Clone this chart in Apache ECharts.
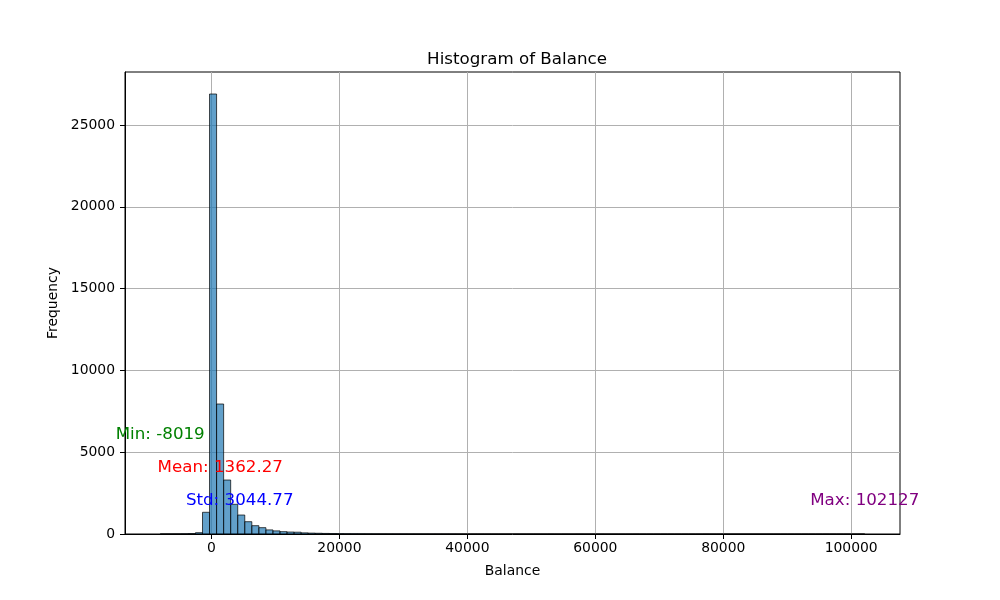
<!DOCTYPE html>
<html>
<head>
<meta charset="utf-8">
<script src="https://cdn.jsdelivr.net/npm/echarts@6/dist/echarts.min.js"></script>
<style>html,body{margin:0;padding:0;background:#fff}#c{width:1000px;height:600px}</style>
</head>
<body>
<div id="c"></div>
<script>
// ---- data ----
var balanceMin = -8019;
var balanceMax = 102127;
var balanceMean = 1362.27;
var balanceStd = 3044.77;
var binCount = 100;
var counts = [
  3, 4, 6, 12, 25, 80, 1327, 26897, 7946, 3300,
  1815, 1160, 752, 509, 387, 250, 190, 143, 120, 110,
  70, 55, 45, 35, 25, 20, 15, 12, 10, 8,
  7, 6, 5, 4, 4, 3, 3, 3, 2, 2,
  2, 2, 1, 1, 1, 1, 1, 1, 1, 1,
  1, 1, 1, 1, 0, 1, 0, 1, 0, 1,
  0, 0, 1, 0, 0, 0, 0, 1, 0, 0,
  0, 0, 0, 0, 0, 0, 0, 1, 0, 0,
  0, 0, 0, 0, 0, 0, 0, 0, 0, 0,
  0, 0, 0, 0, 0, 0, 0, 0, 0, 1
];
var xTicks = [0, 20000, 40000, 60000, 80000, 100000];
var yTicks = [0, 5000, 10000, 15000, 20000, 25000];

// ---- build ----
var binWidth = (balanceMax - balanceMin) / binCount;
var bars = counts.map(function (c, i) {
  return [balanceMin + i * binWidth, balanceMin + (i + 1) * binWidth, c];
});
var maxCount = Math.max.apply(null, counts);
var xPad = (balanceMax - balanceMin) * 0.05;
var FONT = 'DejaVu Sans';

var annotations = [
  {value: [balanceMin, maxCount * 0.225], text: 'Min: ' + balanceMin, color: '#008000'},
  {value: [balanceMean, maxCount * 0.15], text: 'Mean: ' + balanceMean.toFixed(2), color: '#ff0000'},
  {value: [balanceMean + balanceStd, maxCount * 0.075], text: 'Std: ' + balanceStd.toFixed(2), color: '#0000ff'},
  {value: [balanceMax, maxCount * 0.075], text: 'Max: ' + balanceMax, color: '#800080'}
];

var chart = echarts.init(document.getElementById('c'), null, {renderer: 'canvas'});
chart.setOption({
  animation: false,
  backgroundColor: '#fff',
  textStyle: {fontFamily: FONT},
  title: {
    text: 'Histogram of Balance', left: 512, top: 46, textAlign: 'center',
    textStyle: {fontFamily: FONT, fontSize: 16.7, fontWeight: 'normal', color: '#000'}
  },
  grid: {left: 125, right: 100, top: 72, bottom: 66, show: true, borderColor: '#000', borderWidth: 1, backgroundColor: 'transparent'},
  xAxis: {
    type: 'value', min: balanceMin - xPad, max: balanceMax + xPad,
    name: 'Balance', nameLocation: 'middle', nameGap: 30,
    nameTextStyle: {fontFamily: FONT, fontSize: 13.9, color: '#000'},
    axisLine: {show: true, onZero: false, lineStyle: {color: '#000', width: 1}},
    axisTick: {show: true, inside: false, length: 5, customValues: xTicks, lineStyle: {color: '#000'}},
    axisLabel: {customValues: xTicks, fontFamily: FONT, fontSize: 13.9, color: '#000', margin: 7, formatter: function (v) { return String(v); }},
    splitLine: {show: true, lineStyle: {color: '#b0b0b0', width: 1}}
  },
  yAxis: {
    type: 'value', min: 0, max: maxCount * 1.05, interval: 5000,
    name: 'Frequency', nameLocation: 'middle', nameRotate: 90, nameGap: 57,
    nameTextStyle: {fontFamily: FONT, fontSize: 13.9, color: '#000'},
    axisLine: {show: true, onZero: false, lineStyle: {color: '#000', width: 1}},
    axisTick: {show: true, inside: false, length: 5, customValues: yTicks, lineStyle: {color: '#000'}},
    axisLabel: {customValues: yTicks, fontFamily: FONT, fontSize: 13.9, color: '#000', margin: 10, formatter: function (v) { return String(v); }},
    splitLine: {show: true, lineStyle: {color: '#b0b0b0', width: 1}}
  },
  series: [
    {
      type: 'custom',
      data: bars,
      encode: {x: [0, 1], y: 2},
      clip: true,
      renderItem: function (params, api) {
        var p0 = api.coord([api.value(0), api.value(2)]);
        var p1 = api.coord([api.value(1), 0]);
        return {
          type: 'rect',
          shape: {x: p0[0], y: p0[1], width: p1[0] - p0[0], height: p1[1] - p0[1]},
          style: {fill: 'rgba(31,119,180,0.7)', stroke: 'rgba(0,0,0,0.7)', lineWidth: 1}
        };
      }
    },
    {
      type: 'scatter',
      symbolSize: 0,
      z: 10,
      itemStyle: {opacity: 1},
      data: annotations.map(function (a) {
        return {
          value: a.value,
          label: {show: true, position: 'inside', formatter: a.text, color: a.color, opacity: 1, fontFamily: FONT, fontSize: 16.7}
        };
      })
    }
  ]
});
</script>
</body>
</html>
